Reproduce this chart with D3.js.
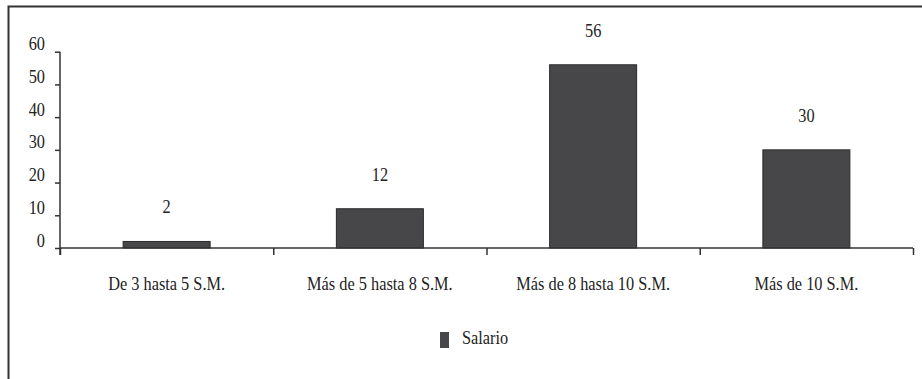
<!DOCTYPE html>
<html>
<head>
<meta charset="utf-8">
<script src="https://cdn.jsdelivr.net/npm/d3@7/dist/d3.min.js"></script>
<style>
  html, body { margin: 0; padding: 0; background: #fff; }
  svg { display: block; }
</style>
</head>
<body>
<script>
// Salary brackets and their counts
const categories = ["De 3 hasta 5 S.M.", "Más de 5 hasta 8 S.M.", "Más de 8 hasta 10 S.M.", "Más de 10 S.M."];
const values = [2, 12, 56, 30];
const yTicks = [0, 10, 20, 30, 40, 50, 60];
const seriesName = "Salario";

const W = 922, H = 379;
const plotLeft = 60, plotRight = 913, plotBase = 248, plotTop = 51.7;
const squeeze = 0.86; // narrow serif face
const FONT = '"Liberation Serif", "Times New Roman", serif';

function serif(sel) {
  return sel.style("font-family", FONT).style("font-size", "19px").style("fill", "#222");
}

const svg = d3.select("body").append("svg").attr("width", W).attr("height", H);

// outer frame (top and left edges)
svg.append("path")
  .attr("d", `M8.5,${H} V6.5 H${W}`)
  .attr("fill", "none").attr("stroke", "#333").attr("stroke-width", 2);

const y = d3.scaleLinear().domain([0, 60]).range([plotBase, plotTop]);
const x = d3.scaleBand().domain(categories).range([plotLeft, plotRight])
  .paddingInner(0.592).paddingOuter(0.296);
const bounds = d3.scaleLinear().domain([0, categories.length]).range([plotLeft, plotRight]);

// bars
svg.append("g").selectAll("rect").data(values).join("rect")
  .attr("x", (d, i) => x(categories[i]))
  .attr("y", d => y(d))
  .attr("width", x.bandwidth())
  .attr("height", d => plotBase - y(d))
  .attr("fill", "#474749")
  .attr("stroke", "#2a2a2a").attr("stroke-width", 1);

// value labels
svg.append("g").selectAll("text").data(values).join("text")
  .attr("transform", (d, i) => `translate(${x(categories[i]) + x.bandwidth() / 2},${y(d) - 28}) scale(${squeeze},1)`)
  .attr("text-anchor", "middle")
  .call(serif)
  .text(d => d);

// y axis
const yAxis = svg.append("g").attr("transform", `translate(${plotLeft},0)`)
  .call(d3.axisLeft(y).tickValues(yTicks).tickSize(5).tickPadding(0));
yAxis.select(".domain").remove();
yAxis.selectAll(".tick line").attr("stroke", "#333").attr("stroke-width", 1.5);
yAxis.selectAll(".tick text")
  .attr("x", null).attr("dy", null)
  .attr("transform", `translate(-15,-2) scale(${squeeze},1)`)
  .call(serif);
svg.append("line")
  .attr("x1", plotLeft).attr("x2", plotLeft).attr("y1", plotTop).attr("y2", plotBase + 7)
  .attr("stroke", "#333").attr("stroke-width", 1.5);

// x axis: baseline with ticks at category boundaries
const xBounds = svg.append("g").attr("transform", `translate(0,${plotBase})`)
  .call(d3.axisBottom(bounds).tickValues(d3.range(categories.length + 1)).tickSize(7).tickFormat(""));
xBounds.select(".domain").attr("stroke", "#333").attr("stroke-width", 1.5).attr("d", `M${plotLeft},0H${plotRight}`);
xBounds.selectAll(".tick line").attr("stroke", "#333").attr("stroke-width", 1.5);

// category labels
const xAxis = svg.append("g").attr("transform", `translate(0,${plotBase})`)
  .call(d3.axisBottom(x).tickSize(0).tickPadding(0));
xAxis.select(".domain").remove();
xAxis.selectAll(".tick text")
  .attr("y", null).attr("dy", null)
  .attr("transform", `translate(0,42) scale(${squeeze},1)`)
  .call(serif);

// legend
const legend = svg.append("g").attr("transform", "translate(440,332)");
legend.append("rect").attr("width", 9).attr("height", 16).attr("fill", "#474749");
legend.append("text").attr("transform", `translate(22,12) scale(${squeeze},1)`).call(serif).text(seriesName);
</script>
</body>
</html>
